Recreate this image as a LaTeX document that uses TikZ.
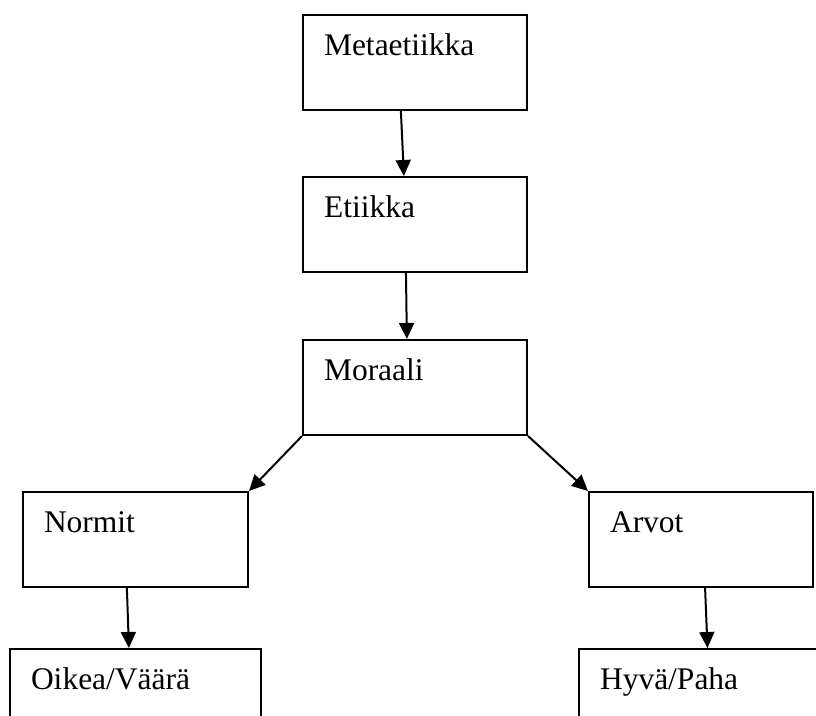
\documentclass[tikz,border=0pt]{standalone}
\usepackage{fontspec}
\setmainfont{Liberation Serif}
\usetikzlibrary{arrows.meta,calc}
\tikzset{box/.style={draw=black, line width=2pt, rectangle, anchor=north west,
              inner xsep=21pt, inner ysep=0pt,
              text height=40pt, text depth=55pt, align=left,
              font=\fontsize{31.5}{36}\selectfont},
  link/.style={black, line width=2pt, -{Triangle[length=16pt,width=15pt]}}}

\begin{document}
\begin{tikzpicture}[x=1pt,y=-1pt]
   \clip (0,0) rectangle (816,715);
   \node[box, text width=182pt] (meta)    at (302, 14) {Metaetiikka};
   \node[box, text width=182pt] (etiikka) at (302,176) {Etiikka};
   \node[box, text width=182pt] (moraali) at (302,339) {Moraali};
   \node[box, text width=183pt] (normit)  at ( 22,491) {Normit};
   \node[box, text width=182pt] (arvot)   at (588,491) {Arvot};
   \node[box, text width=209pt] (oikea)   at (  9,648) {Oikea/Väärä};
   \node[box, text width=215pt] (hyva)    at (578,648) {Hyvä/Paha};

   \draw[link] ($(meta.south west)!0.4375!(meta.south east)$) --
               ($(etiikka.north west)!0.451!(etiikka.north east)$);
   \draw[link] ($(etiikka.south west)!0.46!(etiikka.south east)$) --
               ($(moraali.north west)!0.464!(moraali.north east)$);
   \draw[link] (moraali.south west) -- (normit.north east);
   \draw[link] (moraali.south east) -- (arvot.north west);
   \draw[link] ($(normit.south west)!0.462!(normit.south east)$) --
               ($(oikea.north west)!0.474!(oikea.north east)$);
   \draw[link] ($(arvot.south west)!0.518!(arvot.south east)$) --
               ($(hyva.north west)!0.5!(hyva.north east)$);
\end{tikzpicture}
\end{document}
